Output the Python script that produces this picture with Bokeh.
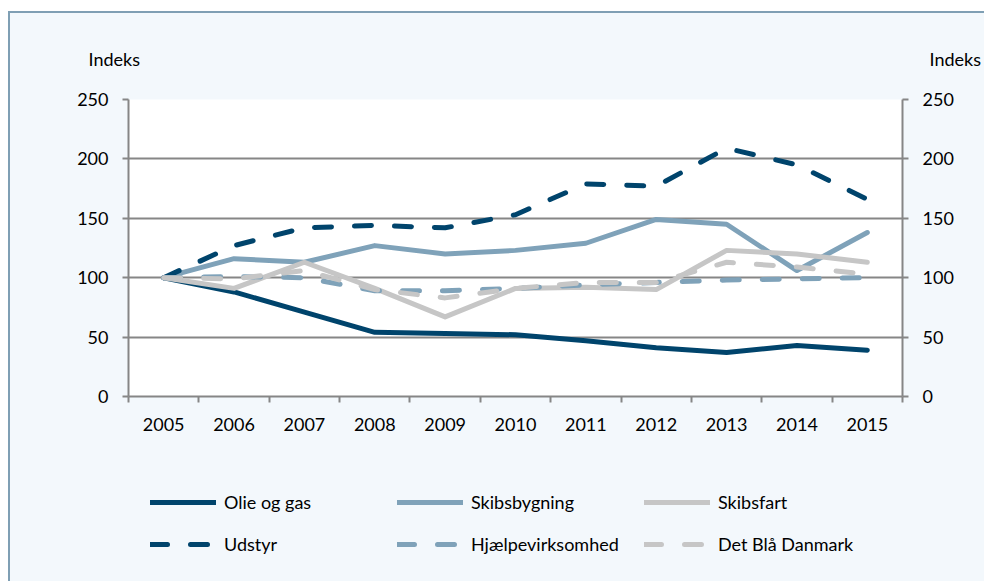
from bokeh.plotting import figure
from bokeh.layouts import column
from bokeh.models import (Range1d, LinearAxis, FixedTicker, Legend, LegendItem, Label)
from bokeh.embed import file_html
from bokeh.resources import INLINE

years = ["2005", "2006", "2007", "2008", "2009", "2010", "2011", "2012", "2013", "2014", "2015"]
olie = [100, 88, 71, 54, 53, 52, 47, 41, 37, 43, 39]
skibsbygning = [100, 116, 113, 127, 120, 123, 129, 149, 145, 106, 138]
skibsfart = [100, 91, 113, 91, 67, 91, 92, 90, 123, 120, 113]
udstyr = [100, 127, 142, 144, 142, 153, 179, 177, 209, 195, 166]
hjaelp = [100, 101, 100, 89, 89, 91, 94, 96, 98, 99, 100]
det_blaa = [100, 99, 106, 90, 83, 91, 96, 96, 113, 109, 103]
y_ticks = [0, 50, 100, 150, 200, 250]
axis_title = "Indeks"

names = ["Olie og gas", "Skibsbygning", "Skibsfart", "Udstyr", "Hjælpevirksomhed", "Det Blå Danmark"]
series = [olie, skibsbygning, skibsfart, udstyr, hjaelp, det_blaa]
colors = ["#00446c", "#7fa2b9", "#c6c6c6", "#00446c", "#7fa2b9", "#c6c6c6"]
dashes = ["solid", "solid", "solid", "17 23", "17 23", "17 23"]

FONT = "Lato"
GRAY = "#868686"
BG = "#f3f8fc"
W = 974

xs = [i + 0.5 for i in range(len(years))]


def blank(height, x0=0):
    f = figure(width=W, height=height, output_backend="svg", toolbar_location=None,
               x_range=Range1d(x0, x0 + W), y_range=Range1d(0, height),
               min_border=0, background_fill_color=BG, border_fill_color=BG,
               frame_align=False)
    f.axis.visible = False
    f.grid.visible = False
    f.outline_line_color = None
    return f


# top strip with the two axis titles
top = blank(74)
for lx in [78, 919]:
    top.add_layout(Label(x=lx, y=29, text=axis_title, text_font=FONT, text_font_size="18px",
                         text_baseline="middle", text_color="#000000"))

# main chart
p = figure(width=W, height=383, output_backend="svg", toolbar_location=None,
           x_range=Range1d(0, len(years)), y_range=Range1d(0, 250),
           min_border_left=118, min_border_right=82, min_border_top=12, min_border_bottom=74,
           background_fill_color="white", border_fill_color=BG, frame_align=False)
p.outline_line_color = None

p.xaxis.ticker = FixedTicker(ticks=xs, minor_ticks=list(range(len(years) + 1)))
p.xaxis.major_label_overrides = {x: y for x, y in zip(xs, years)}
p.xaxis.major_tick_line_color = None
p.xaxis.major_tick_out = 0
p.xaxis.major_tick_in = 0
p.xaxis.minor_tick_line_color = GRAY
p.xaxis.minor_tick_line_width = 2
p.xaxis.minor_tick_out = 6
p.xaxis.minor_tick_in = 0
p.xaxis.major_label_standoff = 15
p.xgrid.grid_line_color = None

p.yaxis.ticker = FixedTicker(ticks=y_ticks)
p.ygrid.ticker = FixedTicker(ticks=y_ticks)
p.ygrid.grid_line_color = GRAY
p.ygrid.grid_line_width = 2

yr = LinearAxis(ticker=FixedTicker(ticks=y_ticks))
p.add_layout(yr, "right")

for ax in [p.xaxis[0], p.yaxis[0], yr]:
    ax.axis_line_color = GRAY
    ax.axis_line_width = 2
    ax.major_label_text_font = FONT
    ax.major_label_text_font_size = "18px"
    ax.major_label_text_color = "#000000"
for ax in [p.yaxis[0], yr]:
    ax.major_tick_line_color = GRAY
    ax.major_tick_line_width = 2
    ax.major_tick_out = 6
    ax.major_tick_in = 0
    ax.minor_tick_line_color = None
    ax.major_label_standoff = 14

for vals, c, d in zip(series, colors, dashes):
    p.line(xs, vals, line_color=c, line_width=5, line_dash=d,
           line_cap="round", line_join="round")

# legend strip (its lines carry the same data, placed outside its visible range)
leg = blank(111, x0=-5000)
items = []
for name, vals, c, d in zip(names, series, colors, dashes):
    r = leg.line(xs, vals, line_color=c, line_width=5, line_dash=d, line_cap="round")
    items.append(LegendItem(label=name, renderers=[r]))
legend = Legend(items=items, orientation="horizontal", ncols=3,
                location=(140, 20), padding=0, margin=0, spacing=8,
                glyph_width=66, glyph_height=34, label_height=34, label_width=165,
                label_standoff=8, label_text_font=FONT, label_text_font_size="18px",
                label_text_color="#000000", border_line_color=None,
                background_fill_alpha=0)
leg.add_layout(legend, "center")

layout = column(top, p, leg, spacing=0)
layout.styles = {"border-left": "2px solid #7f9fb4", "border-top": "2px solid #7f9fb4",
                 "margin-top": "11px", "margin-left": "8px", "background-color": BG}

open("out.html", "w").write(file_html(layout, INLINE))
